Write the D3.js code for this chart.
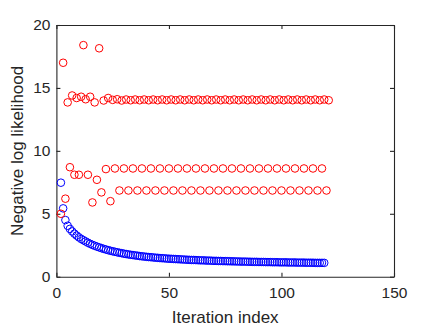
<!DOCTYPE html>
<html>
<head>
<meta charset="utf-8">
<script src="https://cdn.jsdelivr.net/npm/d3@7"></script>
<style>
  body { margin: 0; background: #fff; }
  svg { display: block; font-family: "Liberation Sans", Arial, sans-serif; }
  .axis path, .axis line { stroke: #262626; stroke-width: 1.1; }
  .axis text { fill: #262626; font-size: 15.5px; }
</style>
</head>
<body>
<svg id="chart" width="436" height="327"></svg>
<script>
/** Tick labels and axis titles */
var xTicks = [0, 50, 100, 150],
    yTicks = [0, 5, 10, 15, 20];
var xTitle = 'Iteration index',
    yTitle = 'Negative log likelihood';

/** First iteration shown, the values below run one per iteration from here */
var firstIteration = 2;

/** Red series */
var redValues = [
  5.0, 17.0, 6.2, 13.85, 8.7, 14.4, 8.1, 14.2, 8.1, 14.3, 18.4, 14.1, 8.1, 14.3,
  5.9, 13.85, 7.7, 18.15, 6.7, 14.0, 8.55, 14.2, 6.0, 14.05, 8.6, 14.1, 6.85, 14.0,
  8.6, 14.08, 6.85, 14.02, 8.6, 14.08, 6.85, 14.02, 8.6, 14.08, 6.85, 14.02,
  8.6, 14.08, 6.85, 14.02, 8.6, 14.08, 6.85, 14.02, 8.6, 14.08, 6.85, 14.02,
  8.6, 14.08, 6.85, 14.02, 8.6, 14.08, 6.85, 14.02, 8.6, 14.08, 6.85, 14.02,
  8.6, 14.08, 6.85, 14.02, 8.6, 14.08, 6.85, 14.02, 8.6, 14.08, 6.85, 14.02,
  8.6, 14.08, 6.85, 14.02, 8.6, 14.08, 6.85, 14.02, 8.6, 14.08, 6.85, 14.02,
  8.6, 14.08, 6.85, 14.02, 8.6, 14.08, 6.85, 14.02, 8.6, 14.08, 6.85, 14.02,
  8.6, 14.08, 6.85, 14.02, 8.6, 14.08, 6.85, 14.02, 8.6, 14.08, 6.85, 14.02,
  8.6, 14.08, 6.85, 14.02, 8.6, 14.08, 6.85, 14.02
];

/** Blue series */
var blueValues = [
  7.47, 5.43, 4.5, 4.05, 3.8, 3.6, 3.42, 3.27, 3.13, 3.0, 2.9, 2.8, 2.7, 2.61,
  2.53, 2.46, 2.39, 2.33, 2.27, 2.21, 2.16, 2.11, 2.06, 2.02, 1.98, 1.94, 1.9, 1.87,
  1.83, 1.8, 1.77, 1.74, 1.72, 1.69, 1.67, 1.64, 1.62, 1.6, 1.58, 1.56, 1.55, 1.53,
  1.51, 1.5, 1.48, 1.47, 1.46, 1.44, 1.43, 1.42, 1.41, 1.4, 1.39, 1.38, 1.37, 1.36,
  1.35, 1.34, 1.33, 1.33, 1.32, 1.31, 1.3, 1.3, 1.29, 1.28, 1.28, 1.27, 1.26, 1.26,
  1.25, 1.25, 1.24, 1.24, 1.23, 1.23, 1.22, 1.22, 1.21, 1.21, 1.2, 1.2, 1.2, 1.19,
  1.19, 1.18, 1.18, 1.18, 1.17, 1.17, 1.17, 1.16, 1.16, 1.16, 1.15, 1.15, 1.15, 1.14,
  1.14, 1.14, 1.14, 1.13, 1.13, 1.13, 1.13, 1.12, 1.12, 1.12, 1.12, 1.11, 1.11, 1.11,
  1.11, 1.1, 1.1, 1.1, 1.1, 1.1
];

/** Plot box in pixels */
var plotLeft = 56.4,
    plotRight = 394,
    plotTop = 25,
    plotBottom = 276.7,
    tickLen = 4,
    markerRadius = 3.8;

var svg = d3.select('#chart');

var xScale = d3.scaleLinear()
    .domain([0, 150])
    .range([plotLeft, plotRight]);

var yScale = d3.scaleLinear()
    .domain([0, 20])
    .range([plotBottom, plotTop]);

// axes with inward ticks, box on all four sides
svg.append('g')
    .attr('class', 'axis')
    .attr('transform', 'translate(0,' + plotBottom + ')')
    .call(d3.axisBottom(xScale).tickValues(xTicks).tickSizeInner(-tickLen).tickSizeOuter(0).tickPadding(10));

svg.append('g')
    .attr('class', 'axis')
    .attr('transform', 'translate(0,' + plotTop + ')')
    .call(d3.axisTop(xScale).tickValues(xTicks).tickSizeInner(-tickLen).tickSizeOuter(0).tickFormat(''));

svg.append('g')
    .attr('class', 'axis')
    .attr('transform', 'translate(' + plotLeft + ',0)')
    .call(d3.axisLeft(yScale).tickValues(yTicks).tickSizeInner(-tickLen).tickSizeOuter(0).tickPadding(6));

svg.append('g')
    .attr('class', 'axis')
    .attr('transform', 'translate(' + plotRight + ',0)')
    .call(d3.axisRight(yScale).tickValues(yTicks).tickSizeInner(-tickLen).tickSizeOuter(0).tickFormat(''));

// markers
function drawSeries(values, color) {
    svg.append('g')
        .selectAll('circle')
        .data(values)
        .enter()
        .append('circle')
        .attr('cx', function (d, i) { return xScale(i + firstIteration); })
        .attr('cy', function (d) { return yScale(d); })
        .attr('r', markerRadius)
        .attr('fill', 'none')
        .attr('stroke', color)
        .attr('stroke-width', 1);
}

drawSeries(blueValues, '#0000ff');
drawSeries(redValues, '#ff0000');

// axis titles
svg.append('text')
    .attr('x', (plotLeft + plotRight) / 2)
    .attr('y', 322.5)
    .attr('text-anchor', 'middle')
    .attr('fill', '#262626')
    .style('font-size', '17px')
    .text(xTitle);

svg.append('text')
    .attr('transform', 'translate(22.5,' + ((plotTop + plotBottom) / 2) + ') rotate(-90)')
    .attr('text-anchor', 'middle')
    .attr('fill', '#262626')
    .style('font-size', '17px')
    .text(yTitle);
</script>
</body>
</html>
